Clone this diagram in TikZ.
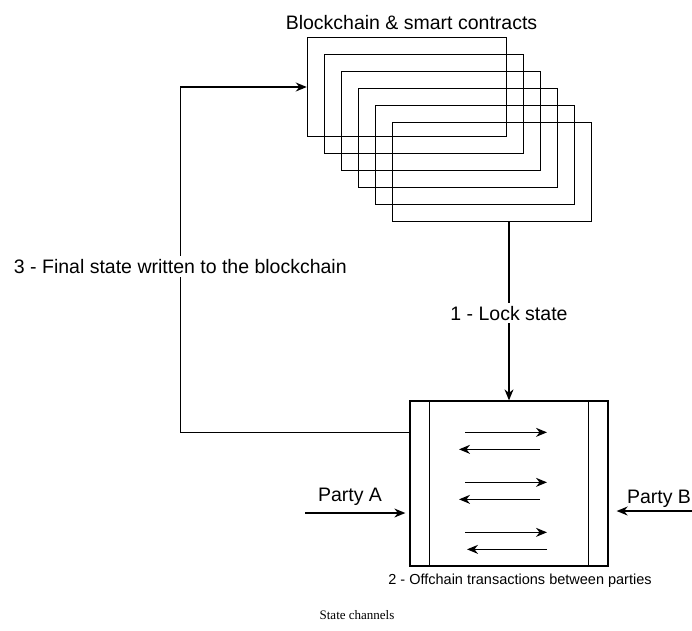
\documentclass[tikz,border=0pt]{standalone}
\usepackage{fontspec}
\setmainfont{Liberation Sans}
\newfontfamily\serifcap{Liberation Serif}
\usetikzlibrary{arrows.meta,calc,positioning}

\begin{document}
\begin{tikzpicture}[
  x=1pt, y=-1pt,
  font=\fontsize{19.5}{23}\selectfont,
  chainbox/.style={draw, line width=1.5pt, minimum width=199pt, minimum height=99pt, inner sep=0pt},
  channel/.style={draw, line width=1.3pt, minimum width=198pt, minimum height=165pt, inner sep=0pt},
  lbl/.style={fill=white, inner sep=3pt},
  arrow/.style={-{Stealth[length=11pt, width=9pt]}, line width=1.3pt},
  msg/.style={-{Stealth[length=11pt, width=9pt]}, line width=1.3pt}
]
\useasboundingbox (0,0) rectangle (692,630);

\foreach \i in {0,...,5}
  \node[chainbox] (bc\i) at ({407+17*\i},{87+17*\i}) {};
\node (bctitle) at (411.5,23) {Blockchain \& smart contracts};

\node[channel] (chan) at (509,483.5) {};
\draw[line width=1.3pt] ($(chan.north west)+(20,0)$) -- ($(chan.south west)+(20,0)$);
\draw[line width=1.3pt] ($(chan.north east)+(-20,0)$) -- ($(chan.south east)+(-20,0)$);

\foreach \k/\dy/\ls/\le in {1/32/31/-50, 2/82/31/-50, 3/132/38/-42} {
  \coordinate (ra\k) at ($(chan.north)+(-44,\dy)$);
  \coordinate (rb\k) at ($(chan.north)+(38,\dy)$);
  \coordinate (la\k) at ($(chan.north)+(\ls,\dy+17)$);
  \coordinate (lb\k) at ($(chan.north)+(\le,\dy+17)$);
  \draw[msg] (ra\k) -- (rb\k);
  \draw[msg] (la\k) -- (lb\k);
}

\draw[arrow] (chan.north |- bc5.south) -- node[lbl, pos=0.51] {1 - Lock state} (chan.north);
\draw[arrow] (ra1 -| chan.west) -- ++(-229,0) |- node[lbl, pos=0.24] {3 - Final state written to the blockchain} (bc0.west);

\node (partyA) at (350,497) {Party A};
\coordinate (pa) at (305,513);
\draw[arrow, shorten >=4pt] (pa) -- (pa -| chan.west);
\node (partyB) at (659,499) {Party B};
\coordinate (pb) at (692,511);
\draw[arrow, shorten >=8pt] (pb) -- (pb -| chan.east);

\node[font=\fontsize{14.5}{17}\selectfont] (offchain) at (520,581) {2 - Offchain transactions between parties};
\node[font=\serifcap\fontsize{13}{15}\selectfont] (figcap) at (357,615) {State channels};
\end{tikzpicture}
\end{document}
